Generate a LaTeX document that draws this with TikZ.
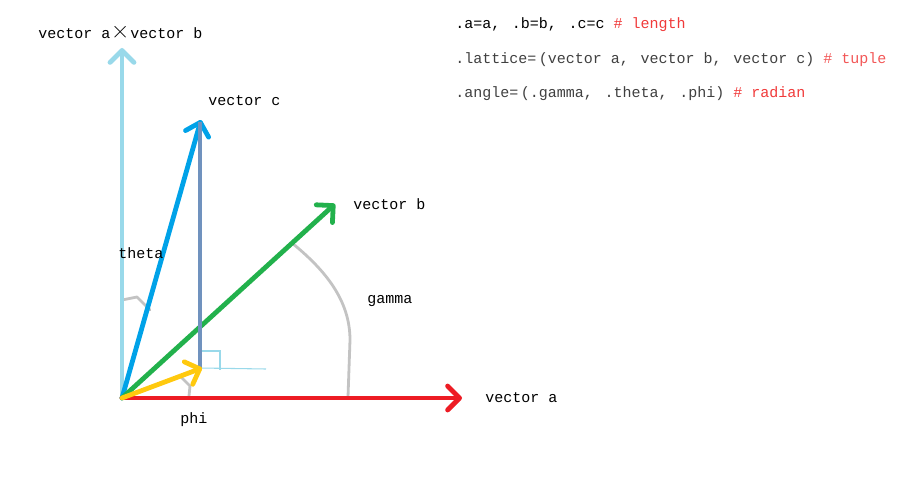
\documentclass[tikz,border=0pt]{standalone}
\usepackage{fontspec}
\setmonofont{Liberation Mono}
\usetikzlibrary{arrows.meta}
\definecolor{skyline}{HTML}{99D9EA}
\definecolor{cline}{HTML}{00A2E8}
\definecolor{bline}{HTML}{22B14C}
\definecolor{aline}{HTML}{ED1C24}
\definecolor{pline}{HTML}{FFC90E}
\definecolor{dropline}{HTML}{7092BE}
\definecolor{arcline}{HTML}{C3C3C3}
\definecolor{notered}{HTML}{F03A3A}
\newcommand{\cmk}{,\kern2pt}
\tikzset{
vec/.style={line width=3.6pt,line cap=round,-{Straight Barb[round,length=9pt,width=18pt,line width=3.6pt]}},
txt/.style={anchor=west,inner sep=0pt,font=\ttfamily\fontsize{11.25}{13}\selectfont},
arc/.style={arcline,line width=2.1pt,line cap=round,line join=round},
thin/.style={skyline,line width=.8pt}
}
\begin{document}
\begin{tikzpicture}
[x=.75pt,y=-.75pt]
\useasboundingbox (0,0) rectangle (914,478);
\coordinate (o) at (122,398);
\coordinate (ta) at (462,398);
\coordinate (tb) at (335,204);
\coordinate (tc) at (201,120);
\coordinate (tx) at (122,48);
\coordinate (tp) at (202,368);
\coordinate (foot) at (200,368);
% right angle mark
\coordinate (r1) at (200,351);
\coordinate (r2) at (220,351);
\coordinate (r3) at (220,370);
\coordinate (r4) at (266,369);
\draw[thin] (r1) -- (r2) -- (r3);
\draw[thin] (foot) -- (r4);
% angle arcs
\coordinate (g1) at (348,397);
\coordinate (g2) at (292,243);
\coordinate (t1) at (122,300);
\coordinate (t2) at (150,310);
\coordinate (h1) at (180,376);
\coordinate (h2) at (189,396);
\draw[arc] (g1) -- (350,340) .. controls (350,300) and (325,270) .. (g2);
\draw[arc] (t1) -- (137,297) -- (t2);
\draw[arc] (h1) -- (190,386) -- (h2);
% vectors
\draw[vec,skyline] (o) -- (tx);
\draw[vec,cline] (o) -- (tc);
\draw[vec,bline] (o) -- (tb);
\draw[dropline,line width=2.6pt] (200,122) -- (foot);
\draw[vec,aline] (o) -- (ta);
\draw[vec,pline] (o) -- (tp);
% labels
\node[txt] (lx) at (38,33) {vector a\makebox[15pt]{\smash{\rmfamily\fontsize{19}{19}\selectfont ×}}vector b};
\node[txt] (lc) at (208,101) {vector c};
\node[txt] (lb) at (353,204) {vector b};
\node[txt] (la) at (485,398) {vector a};
\node[txt] (lt) at (118,253) {theta};
\node[txt] (lg) at (367,301) {gamma};
\node[txt] (lh) at (180,420) {phi};
\node[txt] (n1) at (455,25) {.a=a\cmk{} .b=b\cmk{} .c=c \textcolor{notered}{\# length}};
\node[txt,text=black!75] (n2) at (455,60) {.lattice=\kern2pt(vector a\cmk{} vector b\cmk{} vector c) \textcolor{notered!85}{\# tuple}};
\node[txt,text=black!75] (n3) at (455,94) {.angle=\kern2pt(.gamma\cmk{} .theta\cmk{} .phi) \textcolor{notered}{\# radian}};
\end{tikzpicture}
\end{document}
